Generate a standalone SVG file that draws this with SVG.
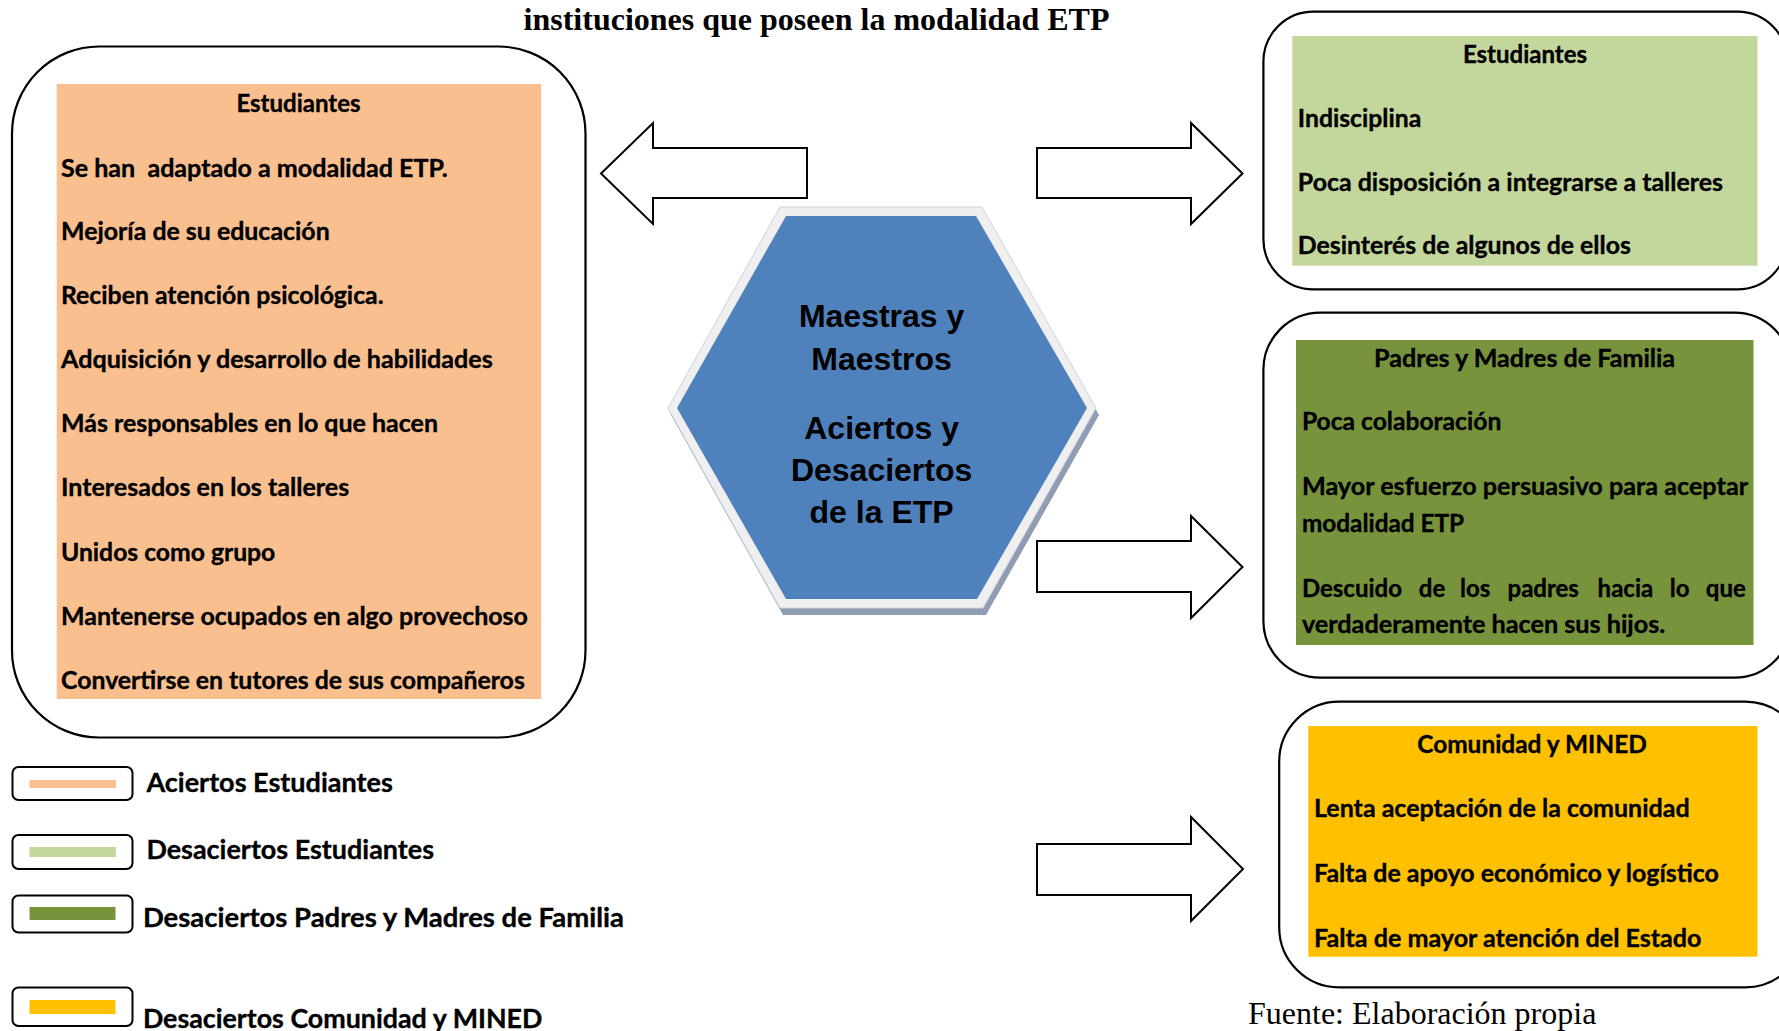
<svg xmlns="http://www.w3.org/2000/svg" width="1779" height="1031" viewBox="0 0 1779 1031">
<style>
.frame{fill:#fff;stroke:#000;stroke-width:2.2}
.t{font-family:Lato,"Open Sans","Liberation Sans",sans-serif;font-weight:bold;font-size:24px;fill:#000;stroke:#000;stroke-width:0.35}
.lg{font-size:27px}
.c{text-anchor:middle}
.hx{font-family:"Liberation Sans",Arial,sans-serif;font-weight:bold;font-size:32px;text-anchor:middle;fill:#000}
.ser{font-family:"Liberation Serif","Times New Roman",serif;font-size:32px;fill:#000}
.arrow{fill:#fff;stroke:#000;stroke-width:2;stroke-linejoin:miter}
.lbox{fill:#fff;stroke:#000;stroke-width:2}
</style>

<text class="ser" x="816.5" y="30" text-anchor="middle" font-weight="bold">instituciones que poseen la modalidad ETP</text>

<g id="aciertos-estudiantes">
<rect class="frame" x="12" y="46.5" width="573.5" height="691" rx="87"/>
<rect x="56.7" y="84" width="484.5" height="615" fill="#FABF8F"/>
<text class="t c" x="298.5" y="112">Estudiantes</text>
<text class="t" x="61" y="176.5" textLength="386.6" lengthAdjust="spacingAndGlyphs" xml:space="preserve">Se han  adaptado a modalidad ETP.</text>
<text class="t" x="61" y="240" textLength="268.7" lengthAdjust="spacingAndGlyphs">Mejoría de su educación</text>
<text class="t" x="61" y="303.5" textLength="322.6" lengthAdjust="spacingAndGlyphs">Reciben atención psicológica.</text>
<text class="t" x="61" y="367.5" textLength="431.7" lengthAdjust="spacingAndGlyphs">Adquisición y desarrollo de habilidades</text>
<text class="t" x="61" y="432" textLength="377" lengthAdjust="spacingAndGlyphs">Más responsables en lo que hacen</text>
<text class="t" x="61" y="496" textLength="288.2" lengthAdjust="spacingAndGlyphs">Interesados en los talleres</text>
<text class="t" x="61" y="561" textLength="214.3" lengthAdjust="spacingAndGlyphs">Unidos como grupo</text>
<text class="t" x="61" y="625" textLength="466.9" lengthAdjust="spacingAndGlyphs">Mantenerse ocupados en algo provechoso</text>
<text class="t" x="61" y="688.5" textLength="463.8" lengthAdjust="spacingAndGlyphs">Convertirse en tutores de sus compañeros</text>
</g>

<g id="maestras-maestros">
<polygon points="783,214 985,214 1099,415 986,615 783,615 671,415" fill="#8E9DB3"/>
<polygon points="780,207 982,207 1096,408 983,608 780,608 668,408" fill="#EFEFEF" stroke="#CDD3DC" stroke-width="1"/>
<polygon points="786,216 976,216 1087,408 977,599 786,599 677,408" fill="#4F81BD"/>
<text class="hx" x="881.6" y="326.8">Maestras y</text>
<text class="hx" x="881.6" y="370">Maestros</text>
<text class="hx" x="881.6" y="439">Aciertos y</text>
<text class="hx" x="881.6" y="481">Desaciertos</text>
<text class="hx" x="881.6" y="523">de la ETP</text>
</g>

<g id="desaciertos-estudiantes">
<rect class="frame" x="1263.4" y="11.7" width="524" height="277.6" rx="50"/>
<rect x="1292.3" y="36" width="465.2" height="229.7" fill="#C3D69B"/>
<text class="t c" x="1525" y="63">Estudiantes</text>
<text class="t" x="1297.8" y="126.5" textLength="123.4" lengthAdjust="spacingAndGlyphs">Indisciplina</text>
<text class="t" x="1297.8" y="190.9" textLength="425.2" lengthAdjust="spacingAndGlyphs">Poca disposición a integrarse a talleres</text>
<text class="t" x="1297.8" y="254.3" textLength="333" lengthAdjust="spacingAndGlyphs">Desinterés de algunos de ellos</text>
</g>

<g id="desaciertos-padres">
<rect class="frame" x="1263.4" y="312.7" width="528" height="365" rx="57"/>
<rect x="1296" y="340" width="457.5" height="305" fill="#77933C"/>
<text class="t c" x="1524.6" y="366.7" textLength="301" lengthAdjust="spacingAndGlyphs">Padres y Madres de Familia</text>
<text class="t" x="1301.9" y="430.1" textLength="199.4" lengthAdjust="spacingAndGlyphs">Poca colaboración</text>
<text class="t" x="1301.9" y="494.9" textLength="446.2" lengthAdjust="spacingAndGlyphs">Mayor esfuerzo persuasivo para aceptar</text>
<text class="t" x="1301.9" y="532" textLength="162.3" lengthAdjust="spacingAndGlyphs">modalidad ETP</text>
<text class="t" y="596.8"><tspan x="1301.9">Descuido</tspan><tspan x="1418.8">de</tspan><tspan x="1460">los</tspan><tspan x="1507.5">padres</tspan><tspan x="1597.6">hacia</tspan><tspan x="1669.8">lo</tspan><tspan x="1705.8">que</tspan></text>
<text class="t" x="1301.9" y="633" textLength="363.4" lengthAdjust="spacingAndGlyphs">verdaderamente hacen sus hijos.</text>
</g>

<g id="desaciertos-comunidad">
<rect class="frame" x="1279.2" y="701.7" width="526" height="285.6" rx="60"/>
<rect x="1308.3" y="726" width="449.2" height="230.7" fill="#FFC000"/>
<text class="t c" x="1532" y="753" textLength="229.5" lengthAdjust="spacingAndGlyphs">Comunidad y MINED</text>
<text class="t" x="1314" y="816.9" textLength="375.6" lengthAdjust="spacingAndGlyphs">Lenta aceptación de la comunidad</text>
<text class="t" x="1314" y="881.7" textLength="404.9" lengthAdjust="spacingAndGlyphs">Falta de apoyo económico y logístico</text>
<text class="t" x="1314" y="946.5" textLength="387.5" lengthAdjust="spacingAndGlyphs">Falta de mayor atención del Estado</text>
</g>

<g id="connectors">
<polygon class="arrow" points="601,173.5 653,123 653,148 807,148 807,198 653,198 653,224"/>
<polygon class="arrow" points="1037,148 1191,148 1191,123 1242.5,173.5 1191,224 1191,198 1037,198"/>
<polygon class="arrow" points="1037,541 1191,541 1191,516 1242.5,567 1191,618 1191,592 1037,592"/>
<polygon class="arrow" points="1037,844 1191,844 1191,817 1243,869 1191,921 1191,895 1037,895"/>
</g>

<g id="legend">
<g id="legend-aciertos-estudiantes">
<rect class="lbox" x="12.5" y="767" width="120" height="33" rx="6"/>
<rect x="29.5" y="780" width="86.5" height="8" fill="#FABF8F"/>
<text class="t lg" x="146.4" y="791.5" textLength="246.4" lengthAdjust="spacingAndGlyphs">Aciertos Estudiantes</text>
</g>
<g id="legend-desaciertos-estudiantes">
<rect class="lbox" x="12.5" y="835" width="120" height="34" rx="6"/>
<rect x="29.5" y="847" width="86.5" height="10" fill="#C3D69B"/>
<text class="t lg" x="146.4" y="858.8" textLength="287.6" lengthAdjust="spacingAndGlyphs">Desaciertos Estudiantes</text>
</g>
<g id="legend-desaciertos-padres">
<rect class="lbox" x="12.5" y="895.5" width="120" height="37" rx="6"/>
<rect x="29.5" y="907" width="86" height="13" fill="#77933C"/>
<text class="t lg" x="142.9" y="926.5" textLength="481" lengthAdjust="spacingAndGlyphs">Desaciertos Padres y Madres de Familia</text>
</g>
<g id="legend-desaciertos-comunidad">
<rect class="lbox" x="12.5" y="987.5" width="120" height="38.5" rx="6"/>
<rect x="29.5" y="1000" width="86" height="14" fill="#FFC000"/>
<text class="t lg" x="142.9" y="1027.5" textLength="399.5" lengthAdjust="spacingAndGlyphs">Desaciertos Comunidad y MINED</text>
</g>
</g>

<text class="ser" x="1248" y="1024">Fuente: Elaboración propia</text>
</svg>
